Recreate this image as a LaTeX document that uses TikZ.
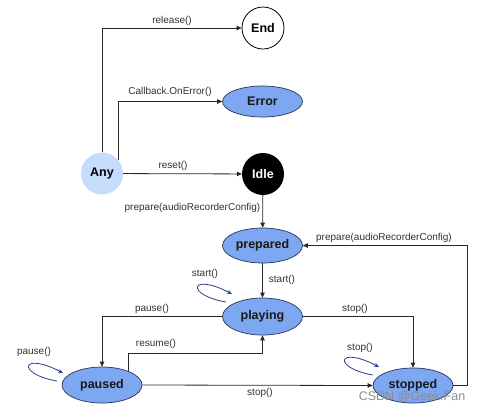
\documentclass[tikz,border=0pt]{standalone}
\usepackage{fontspec}
\setmainfont{Liberation Sans}
\usetikzlibrary{arrows.meta,calc,shapes.geometric}
\definecolor{stfill}{RGB}{125,167,240}
\definecolor{stborder}{RGB}{40,52,90}
\definecolor{anyfill}{RGB}{197,220,252}
\definecolor{linec}{RGB}{40,40,40}
\definecolor{loopc}{RGB}{45,60,140}
\definecolor{labc}{RGB}{50,50,50}
\tikzset{
  statebox/.style={ellipse, draw=stborder, line width=0.7pt, fill=stfill, minimum width=80pt, minimum height=36pt, inner sep=0pt, font=\bfseries\fontsize{12.5}{14}\selectfont, text=black!90},
  roundbox/.style={circle, minimum size=42pt, inner sep=0pt, font=\bfseries\fontsize{12.5}{14}\selectfont},
  arr/.style={draw=linec, line width=0.8pt, -{Triangle[length=5pt,width=4.5pt]}},
  selfloop/.style={draw=loopc, line width=0.8pt, -{Stealth[length=5pt,width=4pt]}},
  lab/.style={font=\fontsize{10}{12}\selectfont, text=labc, inner sep=1pt}
}
\begin{document}
\begin{tikzpicture}[x=1pt,y=-1pt]
\useasboundingbox (0,0) rectangle (482,413);
\fill[white] (0,0) rectangle (482,413);
% nodes
\node[roundbox, draw=black, line width=0.8pt, fill=white] (End) at (263,28) {End};
\node[statebox, minimum height=31pt] (Error) at (262.5,101.5) {Error};
\node[roundbox, fill=anyfill] (Any) at (102,173.5) {Any};
\node[roundbox, fill=black, text=white] (Idle) at (263,174) {Idle};
\node[statebox, minimum height=35pt] (prepared) at (262.5,245.5) {prepared};
\node[statebox, minimum height=37pt] (playing) at (262.5,316.5) {playing};
\node[statebox] (paused) at (102,385) {paused};
\node[statebox, minimum height=35pt] (stopped) at (413,385.5) {stopped};
% connectors
\draw[arr] (Any.north) |- (End.west);
\draw[arr] (Any.40) |- (Error.west);
\draw[arr] (Any) -- (Idle);
\draw[arr] (Idle) -- (prepared);
\draw[arr] (prepared) -- (playing);
\draw[arr] (playing.west) -| (paused.north);
\draw[arr] (playing.east) -| (stopped.north);
\draw[arr] (paused.28) -- ++(0,-17.5) -| (playing.south);
\draw[arr] (paused.east) -- (stopped.west);
\draw[arr] (stopped.east) -- ++(14,0) |- (prepared.east);
% self loops
\draw[selfloop, shift={(226,302)}] (0,0) .. controls (-41,-7) and (-36,-30) .. (6,-8);
\draw[selfloop, shift={(57,381)}] (0,0) .. controls (-41,-7) and (-36,-30) .. (6,-8);
\draw[selfloop, shift={(373,375)}] (0,0) .. controls (-41,-7) and (-36,-30) .. (6,-8);
% labels
\node[lab] (l1) at (172,21) {release()};
\node[lab] (l2) at (170,92) {Callback.OnError()};
\node[lab] (l3) at (173,166) {reset()};
\node[lab] (l4) at (192.5,208) {prepare(audioRecorderConfig)};
\node[lab] (l5) at (384,238) {prepare(audioRecorderConfig)};
\node[lab] (l6) at (282,280) {start()};
\node[lab] (l7) at (205,274) {start()};
\node[lab] (l8) at (152,309) {pause()};
\node[lab] (l9) at (355,309) {stop()};
\node[lab] (l10) at (156,344) {resume()};
\node[lab] (l11) at (34,352) {pause()};
\node[lab] (l12) at (360,348) {stop()};
\node[lab] (l13) at (260,393) {stop()};
\node[font=\fontsize{12.5}{14}\selectfont, text=black!45, inner sep=0pt] (wm) at (412,397) {CSDN @Geek.Fan};
\end{tikzpicture}
\end{document}
